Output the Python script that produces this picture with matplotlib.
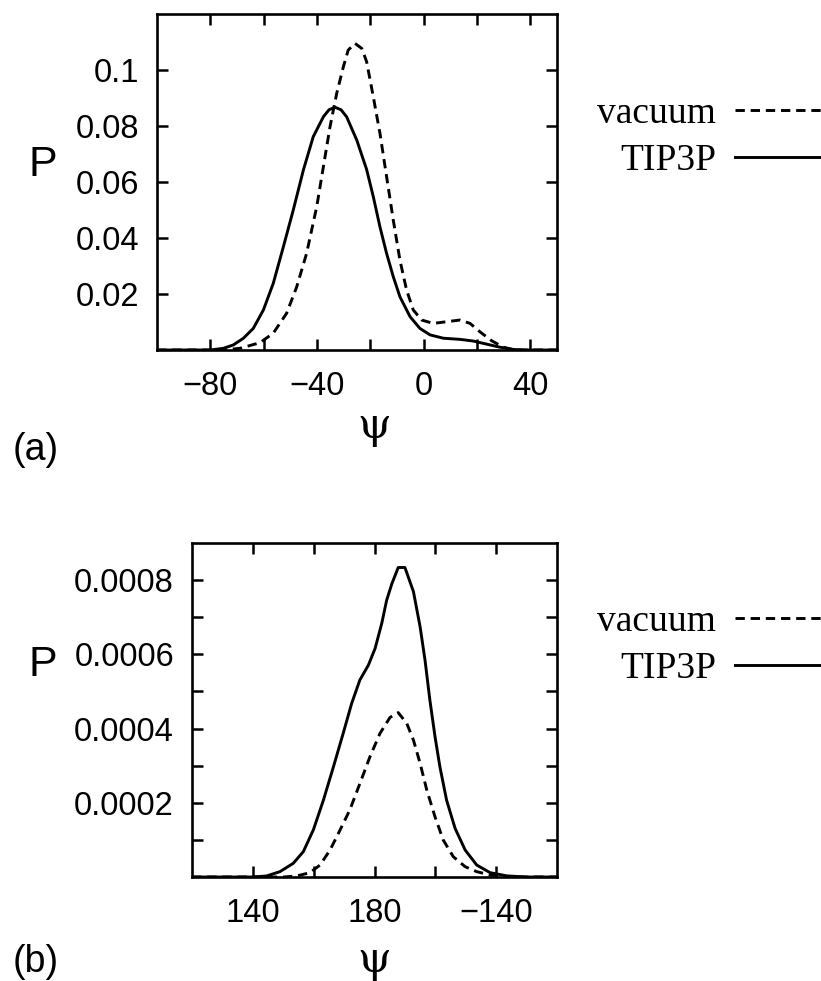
import matplotlib
matplotlib.use("Agg")
import matplotlib.pyplot as plt
from matplotlib.ticker import FixedLocator, FixedFormatter

# ---------------- data ----------------
# panel (a)
a_tip3p_x = [-100, -80, -75.1, -71.4, -67.6, -63.9, -60.1, -56.4, -52.6, -48.9, -45.1, -41.4,
             -37.6, -35.5, -33.25, -31, -28.9, -25.1, -21.4, -18.9, -16.4, -13.9, -11.4, -8.9,
             -5.1, -1.4, 2.4, 7.4, 13.6, 18.6, 23.6, 28.6, 33.6, 38, 50]
a_tip3p_y = [0, 0, 0.0006, 0.0018, 0.0042, 0.0077, 0.0143, 0.0238, 0.0369, 0.050, 0.0643,
             0.0762, 0.0833, 0.0858, 0.0867, 0.0858, 0.0833, 0.075, 0.0645, 0.0548, 0.044,
             0.0345, 0.0262, 0.019, 0.0119, 0.0077, 0.0054, 0.0042, 0.0038, 0.0032, 0.0021,
             0.001, 0.0002, 0, 0]

a_vac_x = [-100, -75, -68.9, -61.4, -56.4, -51.4, -47.6, -43.9, -40.1, -37.6, -35.1, -32.6,
           -30.1, -28.3, -25.75, -23.2, -21.4, -18.9, -16.4, -13.9, -11.4, -8.9, -6.4, -3.9,
           -0.75, 3.6, 8.6, 13.6, 17.4, 21.1, 25.5, 29.9, 34, 50]
a_vac_y = [0, 0, 0.0006, 0.0026, 0.006, 0.0131, 0.0226, 0.0345, 0.0512, 0.0655, 0.0798,
           0.0917, 0.1012, 0.1071, 0.1095, 0.1077, 0.1030, 0.0905, 0.0774, 0.0619, 0.0464,
           0.0321, 0.0214, 0.0143, 0.0107, 0.0095, 0.0101, 0.0107, 0.0095, 0.0065, 0.0033,
           0.001, 0, 0]

# panel (b)  (angle unwrapped: 220 means -140)
b_tip3p_x = [120, 140, 144.5, 148.9, 153.3, 156.6, 159.9, 163.2, 166.5, 169.7, 172.5, 175.2,
             178.0, 180.2, 182.4, 184.0, 185.7, 187.8, 190.0, 192.8, 195.0, 196.6, 198.2,
             199.9, 201.5, 203.7, 206.5, 209.8, 213.6, 218.0, 223.5, 230, 240]
b_tip3p_y = [0, 0, 0.0000027, 0.0000144, 0.0000369, 0.0000683, 0.000127, 0.000207, 0.000297,
             0.000387, 0.000468, 0.000531, 0.000571, 0.000616, 0.000684, 0.000746, 0.000790,
             0.000834, 0.000834, 0.000769, 0.000674, 0.000585, 0.000477, 0.000378, 0.000297,
             0.000207, 0.000131, 0.0000728, 0.0000323, 0.0000117, 0.0000030, 0, 0]

b_vac_x = [120, 150, 154.4, 158.8, 162.1, 165.4, 168.7, 171.9, 175.2, 178.5, 181.8, 185.1,
           187.8, 190.6, 192.8, 195.0, 197.2, 199.9, 202.6, 205.9, 209.8, 213.6, 218, 224, 240]
b_vac_y = [0, 0, 0.0000027, 0.0000117, 0.0000323, 0.0000728, 0.000127, 0.000181, 0.000252,
           0.000324, 0.000387, 0.000430, 0.000443, 0.000414, 0.000369, 0.000306, 0.000234,
           0.000162, 0.0000997, 0.0000547, 0.0000278, 0.0000144, 0.0000054, 0, 0]

series_labels = ["vacuum", "TIP3P"]

a_xticks_major = [-80, -40, 0, 40]
a_xticks_labels = ["\u221280", "\u221240", "0", "40"]
a_xticks_minor = [-60, -20, 20]
a_yticks = [0.02, 0.04, 0.06, 0.08, 0.1]
a_yticks_labels = ["0.02", "0.04", "0.06", "0.08", "0.1"]

b_xticks_major = [140, 180, 220]
b_xticks_labels = ["140", "180", "\u2212140"]
b_xticks_minor = [160, 200]
b_yticks_major = [0.0002, 0.0004, 0.0006, 0.0008]
b_yticks_labels = ["0.0002", "0.0004", "0.0006", "0.0008"]
b_yticks_minor = [0.0001, 0.0003, 0.0005, 0.0007]

# ---------------- figure ----------------
W, H = 821, 981
fig = plt.figure(figsize=(W / 100, H / 100), dpi=100)

SANS = ["Liberation Sans", "DejaVu Sans"]
SERIF = ["Liberation Serif", "DejaVu Serif"]
TICKFS = 23.5
LW = 2.1
DASH = (3.2, 2.0)


def style_axes(ax):
    for s in ax.spines.values():
        s.set_linewidth(1.9)
    ax.tick_params(which="both", direction="in", length=8, width=1.8,
                   top=True, right=True, labelsize=TICKFS)
    ax.tick_params(axis="x", which="both", pad=15)
    ax.tick_params(axis="y", which="both", pad=13)
    for lab in ax.get_xticklabels() + ax.get_yticklabels():
        lab.set_family(SANS)


def add_legend(ax, ycenter):
    leg = ax.legend(series_labels, loc="center right",
                    bbox_to_anchor=(1.0, ycenter), bbox_transform=fig.transFigure,
                    markerfirst=False, frameon=False, borderpad=0, borderaxespad=0,
                    handlelength=2.3, handletextpad=0.5, labelspacing=0.33,
                    prop={"family": SERIF, "size": 27})
    return leg


# panel (a)
ax1 = fig.add_axes([157 / W, 1 - 350 / H, 400 / W, 336 / H])
ax1.plot(a_vac_x, a_vac_y, color="black", lw=LW, dashes=DASH)
ax1.plot(a_tip3p_x, a_tip3p_y, color="black", lw=LW)
ax1.set_xlim(-100, 50)
ax1.set_ylim(0, 0.12)
ax1.xaxis.set_major_locator(FixedLocator(a_xticks_major))
ax1.xaxis.set_major_formatter(FixedFormatter(a_xticks_labels))
ax1.xaxis.set_minor_locator(FixedLocator(a_xticks_minor))
ax1.yaxis.set_major_locator(FixedLocator(a_yticks))
ax1.yaxis.set_major_formatter(FixedFormatter(a_yticks_labels))
style_axes(ax1)
add_legend(ax1, 1 - 137 / H)

# panel (b)
ax2 = fig.add_axes([192 / W, 1 - 877 / H, 365 / W, 334 / H])
ax2.plot(b_vac_x, b_vac_y, color="black", lw=LW, dashes=DASH)
ax2.plot(b_tip3p_x, b_tip3p_y, color="black", lw=LW)
ax2.set_xlim(120, 240)
ax2.set_ylim(0, 0.0009)
ax2.xaxis.set_major_locator(FixedLocator(b_xticks_major))
ax2.xaxis.set_major_formatter(FixedFormatter(b_xticks_labels))
ax2.xaxis.set_minor_locator(FixedLocator(b_xticks_minor))
ax2.yaxis.set_major_locator(FixedLocator(b_yticks_major))
ax2.yaxis.set_major_formatter(FixedFormatter(b_yticks_labels))
ax2.yaxis.set_minor_locator(FixedLocator(b_yticks_minor))
style_axes(ax2)
add_legend(ax2, 1 - 645 / H)

# labels
PSI_FAMILY = ["DejaVu Serif"]
fig.text(43 / W, 1 - 165 / H, "P", family=SANS, size=31, ha="center", va="center")
fig.text(43 / W, 1 - 665 / H, "P", family=SANS, size=31, ha="center", va="center")
fig.text(374 / W, 1 - 426 / H, "\u03c8", family=PSI_FAMILY, size=31, ha="center", va="center")
fig.text(374 / W, 1 - 960 / H, "\u03c8", family=PSI_FAMILY, size=31, ha="center", va="center")
fig.text(13 / W, 1 - 450 / H, "(a)", family=SANS, size=27, ha="left", va="center")
fig.text(13 / W, 1 - 962 / H, "(b)", family=SANS, size=27, ha="left", va="center")

fig.savefig("out.png", dpi=100)
